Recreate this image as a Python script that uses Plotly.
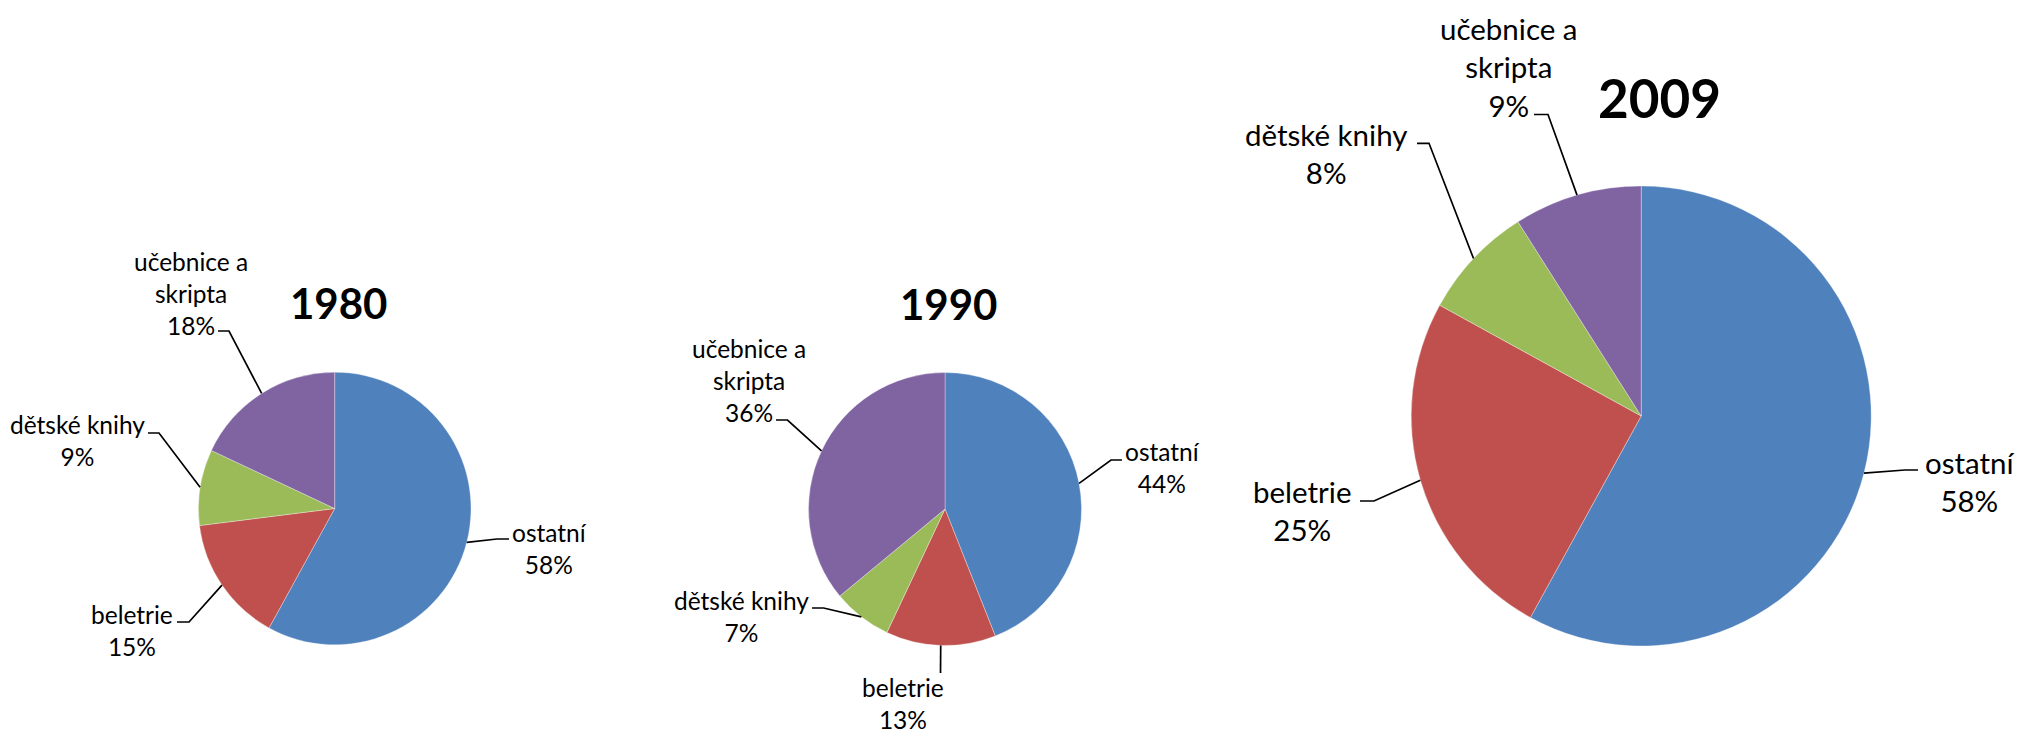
import math
import plotly.graph_objects as go

# ---------------- data ----------------
categories = ["ostatní", "beletrie", "dětské knihy", "učebnice a skripta"]
label_names = ["ostatní", "beletrie", "dětské knihy", "učebnice a<br>skripta"]
years = ["1980", "1990", "2009"]
values_1980 = [58, 15, 9, 18]
values_1990 = [44, 13, 7, 36]
values_2009 = [58, 25, 8, 9]
colors = ["#4F81BD", "#C0504D", "#9BBB59", "#8064A2"]

# ---------------- layout / style (pixels) ----------------
W, H = 2022, 733
FONT = "Lato"

pies = [
    dict(year=years[0], values=values_1980, cx=334.7, cy=508.5, r=136.3,
         title=(338, 302.5, 42), fsize=24.5,
         # per slice: label center x, label middle y, elbow x, elbow y, end x
         labels=[(549, 548, 497, 539, 509),
                 (132, 630, 189, 622, 177),
                 (77, 441, 159, 433, 148),
                 (191, 293, 229, 331, 218)]),
    dict(year=years[1], values=values_1990, cx=945, cy=509, r=136.5,
         title=(948, 303.5, 42), fsize=24.5,
         labels=[(1162, 468, 1111, 460, 1122),
                 (903, 703, 940.5, 673, 940.5),
                 (741, 616, 823.6, 608, 812),
                 (749, 380, 787.5, 420, 776)]),
    dict(year=years[2], values=values_2009, cx=1641.2, cy=416, r=230,
         title=(1659, 97, 53), fsize=29.5,
         labels=[(1970, 481, 1905, 470, 1918),
                 (1302, 510, 1374, 501, 1360),
                 (1325.5, 153, 1429, 143.3, 1417),
                 (1509, 67, 1548, 114.5, 1534)]),
]


def px(x):
    return x / W


def py(y):
    return 1 - y / H


fig = go.Figure()
annotations = []
shapes = []

for p in pies:
    cx, cy, r = p["cx"], p["cy"], p["r"]
    fig.add_trace(go.Pie(
        labels=categories,
        values=p["values"],
        sort=False,
        direction="clockwise",
        rotation=0,
        marker=dict(colors=colors, line=dict(width=0.6, color="rgba(255,255,255,0.55)")),
        textinfo="none",
        hoverinfo="label+percent",
        showlegend=False,
        domain=dict(x=[px(cx - r), px(cx + r)], y=[py(cy + r), py(cy - r)]),
    ))
    tx, ty, ts = p["title"]
    annotations.append(dict(
        x=px(tx), y=py(ty), xref="paper", yref="paper", showarrow=False,
        text="<b>%s</b>" % p["year"], xanchor="center", yanchor="middle",
        font=dict(family=FONT, size=ts, color="#000000")))

    total = sum(p["values"])
    cum = 0
    for i, v in enumerate(p["values"]):
        frac = (cum + v / 2) / total
        cum += v
        th = 2 * math.pi * frac
        ex, ey = cx + r * math.sin(th), cy - r * math.cos(th)
        lx, ly, elx, ely, endx = p["labels"][i]
        pct = round(100 * v / total)
        annotations.append(dict(
            x=px(lx), y=py(ly), xref="paper", yref="paper", showarrow=False,
            text="%s<br>%d%%" % (label_names[i], pct), align="center",
            xanchor="center", yanchor="middle",
            font=dict(family=FONT, size=p["fsize"], color="#000000")))
        shapes.append(dict(
            type="path", xref="paper", yref="paper",
            path="M %f %f L %f %f L %f %f" % (px(ex), py(ey), px(elx), py(ely),
                                               px(endx), py(ely)),
            line=dict(color="#000000", width=1.7)))

fig.update_layout(
    width=W, height=H,
    margin=dict(l=0, r=0, t=0, b=0),
    paper_bgcolor="#FFFFFF", plot_bgcolor="#FFFFFF",
    annotations=annotations, shapes=shapes,
    font=dict(family=FONT),
)

fig.write_html("out.html",
               config={"displayModeBar": False},
               post_script="document.body.style.margin='0';document.body.style.padding='0';")
